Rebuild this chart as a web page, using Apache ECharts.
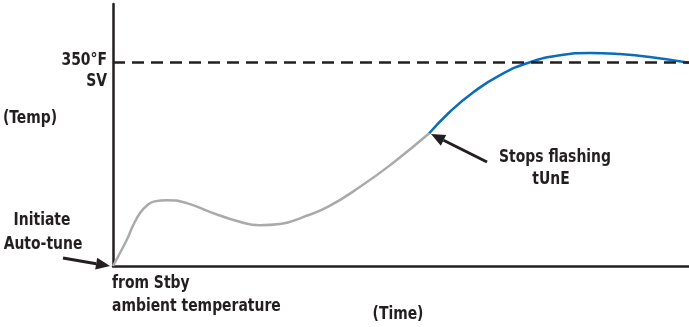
<!DOCTYPE html>
<html>
<head>
<meta charset="utf-8">
<script src="https://cdn.jsdelivr.net/npm/echarts@6/dist/echarts.min.js"></script>
<style>
  html, body { margin: 0; padding: 0; background: #fff; }
  #chart { width: 689px; height: 327px; }
</style>
</head>
<body>
<div id="chart"></div>
<script>
  // time (0-100) vs temp (°F)
  var rampTime = [0, 2.4, 3.5, 4.7, 5.9, 7.2, 9.4, 12.8, 16.8, 22.0, 25.5, 29.0, 33.0, 37.2, 42.9, 48.6, 54.9];
  var rampTemp = [0, 45, 70, 91, 104, 111, 113, 108, 93, 76, 70, 72, 84, 101, 136, 177, 228];
  var tuneTime = [54.9, 58.5, 62.5, 67.2, 72.4, 77.6, 82.8, 88, 93.2, 100];
  var tuneTemp = [228, 265, 298, 328, 350, 362, 366, 364, 359, 349];
  var setPoint = 350;

  var font = '"DejaVu Sans Condensed", "Liberation Sans Narrow", sans-serif';
  var ink = '#231f20';

  function pairs(xs, ys) {
    return xs.map(function (x, i) { return [x, ys[i]]; });
  }

  function label(text, x, y, align) {
    return {
      type: 'text', x: x, y: y, scaleX: 0.86,
      style: {
        text: text, fill: ink, font: 'bold 18px ' + font,
        align: align || 'left', verticalAlign: 'middle'
      }
    };
  }

  function arrow(x1, y1, x2, y2) {
    var a = Math.atan2(y2 - y1, x2 - x1);
    var len = 14, w = 6;
    var bx = x2 - len * Math.cos(a), by = y2 - len * Math.sin(a);
    var nx = -Math.sin(a) * w, ny = Math.cos(a) * w;
    return [
      { type: 'line', shape: { x1: x1, y1: y1, x2: bx, y2: by }, style: { stroke: ink, lineWidth: 3 } },
      { type: 'polygon', shape: { points: [[x2, y2], [bx + nx, by + ny], [bx - nx, by - ny]] }, style: { fill: ink } }
    ];
  }

  var chart = echarts.init(document.getElementById('chart'));

  var option = {
    animation: false,
    grid: { left: 113, right: 0, top: 4, bottom: 61 },
    xAxis: {
      type: 'value', min: 0, max: 100,
      axisLine: { show: true, lineStyle: { color: ink, width: 2.5 } },
      axisTick: { show: false }, axisLabel: { show: false }, splitLine: { show: false }
    },
    yAxis: {
      type: 'value', min: 0, max: 450,
      axisLine: { show: true, lineStyle: { color: ink, width: 2.5 } },
      axisTick: { show: false }, axisLabel: { show: false }, splitLine: { show: false }
    },
    series: [
      {
        type: 'line', smooth: 0.5, symbol: 'none', z: 3,
        lineStyle: { color: '#aaaaaa', width: 2.5 },
        data: pairs(rampTime, rampTemp),
        markLine: {
          silent: true, symbol: 'none', label: { show: false },
          lineStyle: { color: ink, width: 2.5, type: [12, 7] },
          data: [{ yAxis: setPoint }]
        }
      },
      {
        type: 'line', smooth: 0.5, symbol: 'none', z: 4,
        lineStyle: { color: '#0b6db7', width: 2.5 },
        data: pairs(tuneTime, tuneTemp)
      }
    ],
    graphic: [
      label('350°F', 107, 60, 'right'),
      label('SV', 107, 81, 'right'),
      label('(Temp)', 3, 118),
      label('Initiate', 42, 220, 'center'),
      label('Auto-tune', 43, 244, 'center'),
      label('from Stby', 112, 283),
      label('ambient temperature', 112, 306),
      label('(Time)', 398, 314, 'center'),
      label('Stops flashing', 555, 157, 'center'),
      label('tUnE', 551, 179, 'center')
    ].concat(arrow(63, 258, 110, 266), arrow(487, 162, 431, 134))
  };

  chart.setOption(option);
</script>
</body>
</html>
